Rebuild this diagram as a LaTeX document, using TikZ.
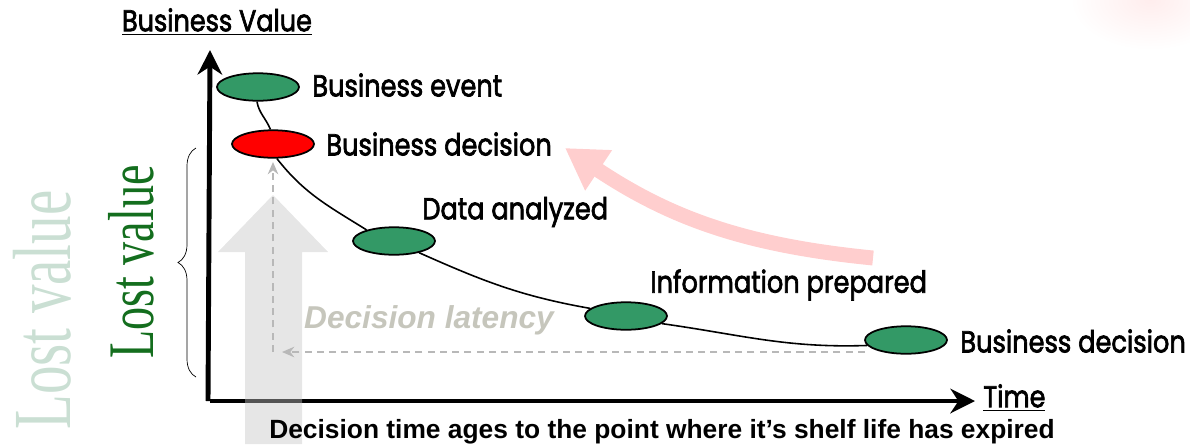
\documentclass[tikz,border=0pt]{standalone}
\usepackage{fontspec}
\setmainfont{Poppins}
\newfontfamily\medfont{Poppins}[FakeBold=2.5]
\newfontfamily\arialfont{Liberation Sans}
\newfontfamily\timesfont{Liberation Serif}
\usetikzlibrary{arrows.meta,shapes.geometric,decorations.pathreplacing,positioning}

\definecolor{evgreen}{RGB}{51,153,102}
\definecolor{lostgreen}{RGB}{20,110,30}
\definecolor{fadegreen}{RGB}{202,223,211}
\definecolor{latgray}{RGB}{198,198,188}
\definecolor{pinkarrow}{RGB}{255,206,206}
\newcommand\tall[1]{\scalebox{1}[1.18]{#1}}

\tikzset{
  event/.style={ellipse,draw,line width=1pt,fill=evgreen,minimum width=1.64cm,minimum height=0.55cm,inner sep=0pt},
  lbl/.style={font=\medfont\fontsize{14.6}{17}\selectfont,anchor=west,inner sep=0pt},
  axis/.style={line width=2.8pt,-{Stealth[length=14pt,width=14pt]}},
  latency/.style={draw=black!28,dash pattern=on 4pt off 3pt,line width=1pt,-{Stealth[length=7pt,width=6pt]}},
}

\begin{document}
\begin{tikzpicture}[x=0.02cm,y=-0.02cm]
\useasboundingbox (0,0) rectangle (1190,444);
%\draw [help lines,step=50] (0,0) grid (1190,444);
\shade[inner color=red!7,outer color=white] (1150,0) ellipse (80 and 50);

\node[rotate=90,text=fadegreen,font=\timesfont\fontsize{47}{47}\selectfont] (fade) at (42,310) {\scalebox{0.69}[1]{Lost value}};
\node[rotate=90,text=lostgreen,font=\timesfont\fontsize{37}{37}\selectfont] (lost) at (131,262) {\scalebox{0.71}[1]{Lost value}};
\draw [decorate,decoration={brace,amplitude=0.36cm}] (196,377) -- (196,148);

% axes
\coordinate (o) at (210,401);
\coordinate (ytip) at (210,50);
\coordinate (xtip) at (975,401);
\draw [axis] (208,401) -- (ytip);
\draw [axis] (o) -- (xtip);
\node[font=\medfont\fontsize{14.5}{16}\selectfont] (bv) at (217,22) {\tall{\underline{Business Value}}};
\node[font=\medfont\fontsize{14.5}{16}\selectfont,anchor=west,inner sep=0pt] (time) at (983,398) {\tall{\underline{Time}}};

% shelf life arrow
\fill[black!23,opacity=0.43] (245,444) -- (245,252) -- (218,252) -- (273,195) -- (328,252) -- (302,252) -- (302,444) -- cycle;
\node[font=\arialfont\bfseries\fontsize{15}{17}\selectfont,inner sep=1pt] (shelf) at (662,432) {Decision time ages to the point where it’s shelf life has expired};

% events
\node[event] (ev) at (258,87) {};
\node[event,fill=red] (dec) at (273,144) {};
\node[event] (ana) at (394,241) {};
\node[event] (inf) at (626,316) {};
\node[event] (late) at (906,340) {};
\node[lbl] (evl) at (312,85) {\tall{Business event}};
\node[lbl] (decl) at (326,144) {\tall{Business decision}};
\node[lbl] (anal) at (422,212) {\tall{Data analyzed}};
\node[lbl] (infl) at (650,285) {\tall{Information prepared}};
\node[lbl] (latel) at (960,341) {\tall{Business decision}};

\draw [line width=0.9pt] (ev.266) to[out=-80,in=112] (dec.100);
\draw [line width=0.9pt] (dec.-75) to[out=-52,in=148] (ana.158);
\draw [line width=0.9pt] (ana.-25) to[out=-24,in=170] (inf.168);
\draw [line width=0.9pt] (inf.-12) to[out=-8,in=182] (late.188);

% latency
\coordinate (l0) at (273,352);
\coordinate (l1) at (273,162);
\coordinate (l2) at (865,352);
\coordinate (l3) at (282,352);
\draw [latency] (l0) -- (l1);
\draw [latency] (l2) -- (l3);
\node[font=\arialfont\bfseries\itshape\fontsize{18}{20}\selectfont,text=latgray] (lat) at (429,320) {Decision latency};

% back to the decision
\coordinate (p0) at (873,258);
\coordinate (p1) at (565,148);
\draw [pinkarrow,line width=8.5pt,-{Triangle[length=23pt,width=26pt]}] (p0) to[bend left=14] (p1);
\end{tikzpicture}
\end{document}
